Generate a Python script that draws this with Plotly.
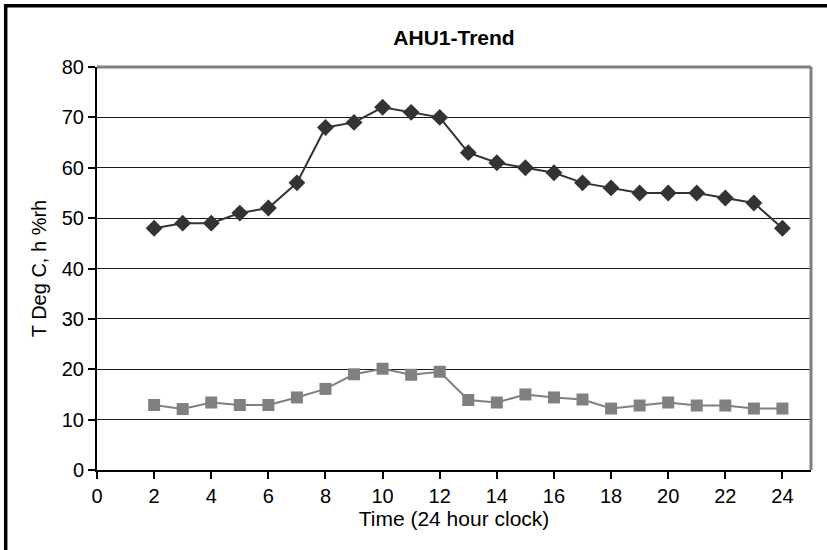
import plotly.graph_objects as go

hours = list(range(2, 25))
temp_series = [48, 49, 49, 51, 52, 57, 68, 69, 72, 71, 70, 63, 61, 60, 59, 57, 56, 55, 55, 55, 54, 53, 48]
rh_series = [12.9, 12.1, 13.4, 12.9, 12.9, 14.4, 16.1, 19.0, 20.1, 18.9, 19.5, 13.9, 13.4, 15.0, 14.4, 14.0, 12.2, 12.8, 13.4, 12.8, 12.8, 12.2, 12.2]
x_ticks = list(range(0, 25, 2))
y_ticks = list(range(0, 81, 10))

W, H = 827, 550
L, R, T, B = 97, 811, 67, 470

fig = go.Figure()
fig.add_trace(go.Scatter(x=hours, y=rh_series, mode="lines+markers",
                         line=dict(color="#808080", width=2),
                         marker=dict(symbol="square", size=12, color="#808080"),
                         showlegend=False))
fig.add_trace(go.Scatter(x=hours, y=temp_series, mode="lines+markers",
                         line=dict(color="#333333", width=2),
                         marker=dict(symbol="diamond", size=13, color="#333333"),
                         showlegend=False))

def px2paper_x(px):
    return (px - L) / (R - L)

def px2paper_y(py):
    return (B - py) / (B - T)

shapes = [
    # outer black frame (left and top visible; rest falls outside the page)
    dict(type="rect", xref="paper", yref="paper",
         x0=px2paper_x(5.7), x1=px2paper_x(900), y0=px2paper_y(5.7), y1=px2paper_y(600),
         line=dict(color="#000000", width=3.5), fillcolor="rgba(0,0,0,0)", layer="above"),
    # gray top & right plot border
    dict(type="line", xref="paper", yref="paper", x0=0, x1=1, y0=1, y1=1,
         line=dict(color="#808080", width=3)),
    dict(type="line", xref="paper", yref="paper", x0=1, x1=1, y0=0, y1=1,
         line=dict(color="#808080", width=3)),
]

fig.update_layout(
    width=W, height=H,
    margin=dict(l=L, r=W - R, t=T, b=H - B, pad=0),
    paper_bgcolor="white", plot_bgcolor="white",
    font=dict(family="Liberation Sans, Arial, sans-serif", size=20, color="#000000"),
    title=dict(text="<b>AHU1-Trend</b>", x=px2paper_x(454), xref="paper", xanchor="center",
               y=1 - 38 / H, yanchor="middle", font=dict(size=21)),
    shapes=shapes,
    xaxis=dict(range=[0, 25], tickvals=x_ticks, ticktext=[str(v) for v in x_ticks],
               showgrid=False, zeroline=False, showline=True, linecolor="#000000", linewidth=2,
               ticks="outside", ticklen=7, tickwidth=1.5, tickcolor="#000000",
               tickfont=dict(size=20),
               title=dict(text="Time (24 hour clock)", standoff=4, font=dict(size=21)),
               fixedrange=True),
    yaxis=dict(range=[0, 80], tickvals=y_ticks, ticktext=[str(v) for v in y_ticks],
               showgrid=True, gridcolor="#1a1a1a", gridwidth=1, zeroline=False,
               showline=True, linecolor="#000000", linewidth=2,
               ticks="outside", ticklen=7, tickwidth=1.5, tickcolor="#000000",
               tickfont=dict(size=20),
               title=dict(text="T Deg C, h %rh", standoff=10, font=dict(size=20)),
               fixedrange=True),
)

fig.write_html("out.html", config={"displayModeBar": False},
               post_script="document.body.style.margin='0';document.body.style.overflow='hidden';")
